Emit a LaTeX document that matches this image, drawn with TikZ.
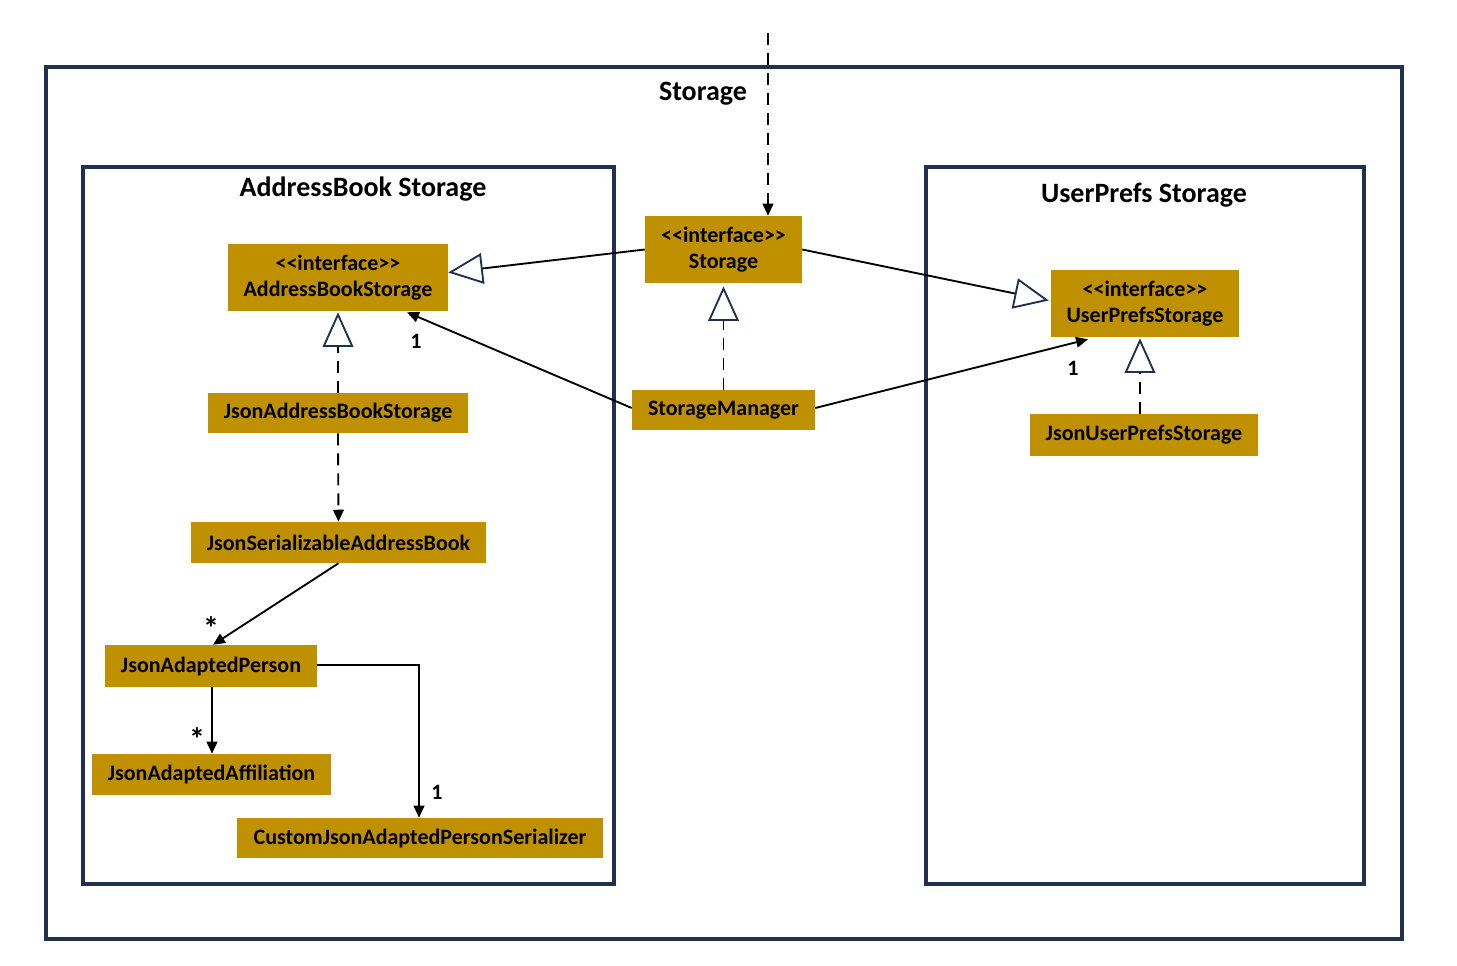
\documentclass[tikz,border=0pt]{standalone}
\usepackage{fontspec}
\setmainfont{Carlito}
\usetikzlibrary{arrows.meta,calc}
\definecolor{boxgold}{HTML}{BF9000}
\definecolor{navy}{HTML}{1F3050}
\tikzset{
  box/.style={fill=boxgold, inner sep=0pt, font=\bfseries\fontsize{16.5}{20}\selectfont, align=center, text=black},
  frame/.style={draw=navy, line width=2.5pt},
  title/.style={font=\bfseries\fontsize{21}{24}\selectfont, text=black},
  conn/.style={line width=1.4pt, draw=black},
  dep/.style={conn, dash pattern=on 9pt off 6pt},
  assoc/.style={conn, -{Triangle[length=9pt,width=8pt]}},
  realize/.style={conn, dash pattern=on 9pt off 6pt, -{Triangle[length=26pt,width=23pt,fill=white,color=navy,line width=1.4pt]}},
  gen/.style={conn, -{Triangle[length=26pt,width=23pt,fill=white,color=navy,line width=1.4pt]}},
  mult/.style={font=\bfseries\fontsize{16.5}{20}\selectfont, text=black},
  star/.style={font=\bfseries\fontsize{24}{26}\selectfont, text=black},
}
\newcommand{\stereo}{{<}{<}interface{>}{>}}
\begin{document}
\begin{tikzpicture}[x=0.75pt, y=-0.75pt]
\useasboundingbox (0,0) rectangle (1457,965);
% frames
\draw[frame] (46,67) rectangle (1402,939);
\draw[frame] (83,167) rectangle (614,884);
\draw[frame] (926,167) rectangle (1364,884);
\node[title] (tStorage) at (703,94) {Storage};
\node[title] (tAB) at (363,189) {AddressBook Storage};
\node[title] (tUP) at (1144,195) {UserPrefs Storage};
% nodes
\node[box, minimum width=157*0.75pt, minimum height=67*0.75pt] (st) at (723.5,249.5) {\stereo\\Storage};
\node[box, minimum width=220*0.75pt, minimum height=67*0.75pt] (abs) at (338,277.5) {\stereo\\AddressBookStorage};
\node[box, minimum width=188*0.75pt, minimum height=67*0.75pt] (ups) at (1145,303.5) {\stereo\\UserPrefsStorage};
\node[box, minimum width=183*0.75pt, minimum height=40*0.75pt] (sm) at (723.5,410) {StorageManager};
\node[box, minimum width=260*0.75pt, minimum height=40*0.75pt] (jabs) at (338,413) {JsonAddressBookStorage};
\node[box, minimum width=228*0.75pt, minimum height=42*0.75pt] (jups) at (1144,435) {JsonUserPrefsStorage};
\node[box, minimum width=295*0.75pt, minimum height=41*0.75pt] (jsab) at (338.5,542.5) {JsonSerializableAddressBook};
\node[box, minimum width=212*0.75pt, minimum height=42*0.75pt] (jap) at (211,666) {JsonAdaptedPerson};
\node[box, minimum width=239*0.75pt, minimum height=41*0.75pt] (jaa) at (211.5,774.5) {JsonAdaptedAffiliation};
\node[box, minimum width=366*0.75pt, minimum height=40*0.75pt] (cjs) at (420,838) {CustomJsonAdaptedPersonSerializer};
% connectors
\coordinate (topin) at (768,33);
\draw[dep, -{Triangle[length=9pt,width=8pt]}] (topin) -- (st.north -| topin);
\draw[gen] (st.west) -- ($(abs.east)+(0,-5)$);
\draw[gen] (st.east) -- ($(ups.west)+(-2,-3)$);
\draw[realize] (sm.north) -- ($(st.south)+(0,3)$);
\draw[realize] (jabs.north) -- ($(abs.south)+(0,1)$);
\draw[realize] ($(jups.north)+(-4,0)$) -- ($(ups.south)+(-5,1)$);
\draw[assoc] ($(sm.west)+(0,-2)$) -- ($(abs.south)+(69,1)$);
\node[mult] (m1) at (416,341) {1};
\draw[assoc] ($(sm.east)+(0,-2)$) -- ($(ups.south)+(-57,2)$);
\node[mult] (m2) at (1073,368) {1};
\draw[dep, -{Triangle[length=9pt,width=8pt]}] (jabs.south) -- (jsab.north);
\draw[assoc] (jsab.south) -- ($(jap.north)+(2,0)$);
\node[star] (m3) at (211,628) {*};
\draw[assoc] ($(jap.south)+(1,0)$) -- ($(jaa.north)+(0.5,0)$);
\node[star] (m4) at (197,739) {*};
\draw[assoc] ($(jap.east)+(0,-1)$) -| (cjs.north -| 419,0);
\node[mult] (m5) at (437,792) {1};
\end{tikzpicture}
\end{document}
